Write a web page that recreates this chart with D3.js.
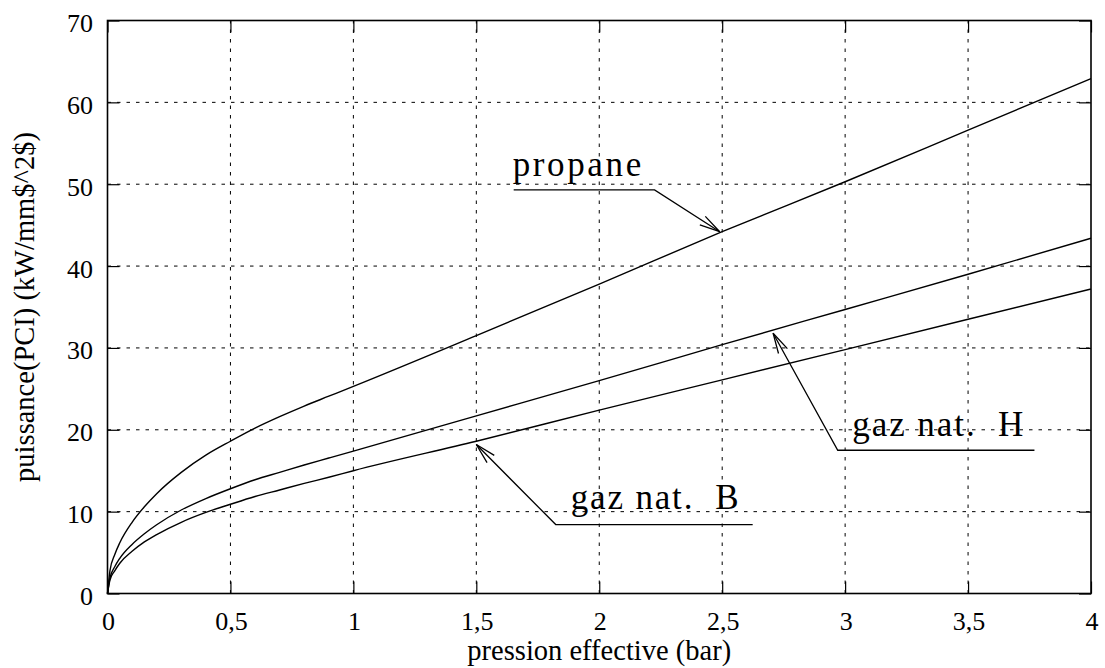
<!DOCTYPE html>
<html><head><meta charset="utf-8">
<script src="https://cdn.jsdelivr.net/npm/d3@7"></script>
<style>body{margin:0;background:#fff} text{font-family:"Liberation Serif","Times New Roman",serif;}</style>
</head><body><svg id="c" width="1105" height="668"></svg>
<script>
// ---- data ----
const pression = [0, 0.01, 0.03, 0.05, 0.1, 0.15, 0.2, 0.3, 0.4, 0.5, 0.6, 0.7, 0.8, 0.9, 1, 1.5, 2, 2.5, 3, 3.5, 4];
const propane  = [0, 2.8, 4.8, 6.2, 8.7, 10.6, 12.2, 14.8, 16.9, 18.6, 20.2, 21.6, 22.9, 24.1, 25.3, 31.5, 37.8, 44.2, 50.3, 56.6, 62.9];
const gazH     = [0, 1.9, 3.3, 4.3, 6.0, 7.3, 8.4, 10.2, 11.6, 12.8, 13.9, 14.8, 15.7, 16.55, 17.4, 21.7, 26.0, 30.4, 34.7, 39.0, 43.4];
const gazB     = [0, 1.65, 2.8, 3.7, 5.15, 6.3, 7.2, 8.7, 9.9, 10.9, 11.85, 12.65, 13.45, 14.2, 15.0, 18.6, 22.4, 26.1, 29.8, 33.5, 37.2];
const xTicks = [0, 0.5, 1, 1.5, 2, 2.5, 3, 3.5, 4];
const xTickLabels = ["0", "0,5", "1", "1,5", "2", "2,5", "3", "3,5", "4"];
const yTicks = [0, 10, 20, 30, 40, 50, 60, 70];
const yTickLabels = ["0", "10", "20", "30", "40", "50", "60", "70"];
const xTitle = "pression effective (bar)";
const yTitle = "puissance(PCI) (kW/mm$^2$)";
// annotations: label, text anchor point, leader start/end, arrow tip (data units)
const annLabels = ["propane", "gaz nat.\u00a0\u00a0H", "gaz nat.\u00a0\u00a0B"];
const annText   = [[1.648, 51.0], [3.029, 19.25], [1.884, 10.35]];
const annLeader = [[1.652, 2.225, 49.3], [3.77, 2.97, 17.5], [2.624, 1.823, 8.42]];
const annTip    = [[2.49, 44.2], [2.707, 31.8], [1.50, 18.2]];
const annWidth  = [128.5, 171, 168];

// ---- layout ----
const svg = d3.select("#c");
const L = 107.5, R = 1091, T = 20.5, B = 593.5;
const x = d3.scaleLinear().domain([0, 4]).range([L, R]);
const y = d3.scaleLinear().domain([0, 70]).range([B, T]);
const font = "Liberation Serif";

// grid
const grid = svg.append("g").attr("stroke", "#000").attr("stroke-width", 1).attr("stroke-dasharray", "3.5,6");
grid.selectAll(".gx").data(xTicks.slice(1, -1)).join("line")
  .attr("x1", d => x(d)).attr("x2", d => x(d)).attr("y1", B).attr("y2", T);
grid.selectAll(".gy").data(yTicks.slice(1, -1)).join("line")
  .attr("y1", d => y(d)).attr("y2", d => y(d)).attr("x1", L).attr("x2", R);

// axes via d3 (inner ticks, mirrored)
const tk = 12;
const axB = svg.append("g").attr("transform", `translate(0,${B})`)
  .call(d3.axisTop(x).tickValues(xTicks).tickSize(tk).tickFormat(""));
const axT = svg.append("g").attr("transform", `translate(0,${T})`)
  .call(d3.axisBottom(x).tickValues(xTicks).tickSize(tk).tickFormat(""));
const axL = svg.append("g").attr("transform", `translate(${L},0)`)
  .call(d3.axisRight(y).tickValues(yTicks).tickSize(tk).tickFormat(""));
const axR = svg.append("g").attr("transform", `translate(${R},0)`)
  .call(d3.axisLeft(y).tickValues(yTicks).tickSize(tk).tickFormat(""));
[axB, axT, axL, axR].forEach(a => {
  a.select(".domain").remove();
  a.selectAll("line").attr("stroke", "#000").attr("stroke-width", 1.2);
});

// frame
svg.append("rect").attr("x", L).attr("y", T).attr("width", R - L).attr("height", B - T)
  .attr("fill", "none").attr("stroke", "#000").attr("stroke-width", 1.6);

// tick labels
svg.append("g").selectAll("text").data(xTicks).join("text")
  .attr("x", d => x(d) + 1).attr("y", 629.5).attr("text-anchor", "middle")
  .style("font-family", font).attr("font-size", 26).text((d, i) => xTickLabels[i]);
svg.append("g").selectAll("text").data(yTicks).join("text")
  .attr("x", 93).attr("y", d => y(d) + 11.5).attr("text-anchor", "end")
  .style("font-family", font).attr("font-size", 26).text((d, i) => yTickLabels[i]);

// axis titles
svg.append("text").attr("x", (L + R) / 2).attr("y", 660).attr("text-anchor", "middle")
  .style("font-family", font).attr("font-size", 28.5).text(xTitle);
svg.append("text").attr("transform", `translate(34,${(T + B) / 2}) rotate(-90)`)
  .attr("text-anchor", "middle").style("font-family", font).attr("font-size", 28.5).text(yTitle);

// curves
const line = d3.line().x(d => x(d[0])).y(d => y(d[1])).curve(d3.curveMonotoneX);
[propane, gazH, gazB].forEach(s => {
  svg.append("path").datum(pression.map((p, i) => [p, s[i]]))
    .attr("d", line).attr("fill", "none").attr("stroke", "#000").attr("stroke-width", 1.4);
});

// annotations
annLabels.forEach((lab, i) => {
  const [tx, ty] = annText[i];
  svg.append("text").attr("x", x(tx)).attr("y", y(ty))
    .style("font-family", font).attr("font-size", 35)
    .attr("textLength", annWidth[i]).attr("lengthAdjust", "spacing")
    .style("white-space", "pre").text(lab);
  const [la, lb, ly] = annLeader[i];
  const [px, py] = annTip[i];
  const pts = [[x(la), y(ly)], [x(lb), y(ly)], [x(px), y(py)]];
  svg.append("path").attr("d", d3.line()(pts)).attr("fill", "none")
    .attr("stroke", "#000").attr("stroke-width", 1.3);
  // open arrowhead
  const ang = Math.atan2(y(ly) - y(py), x(lb) - x(px));
  const len = 21, half = 14 * Math.PI / 180;
  const tip = [x(px), y(py)];
  const b1 = [tip[0] + len * Math.cos(ang + half), tip[1] + len * Math.sin(ang + half)];
  const b2 = [tip[0] + len * Math.cos(ang - half), tip[1] + len * Math.sin(ang - half)];
  svg.append("path").attr("d", d3.line()([b1, tip, b2])).attr("fill", "none")
    .attr("stroke", "#000").attr("stroke-width", 1.3);
});
</script>
</body></html>
